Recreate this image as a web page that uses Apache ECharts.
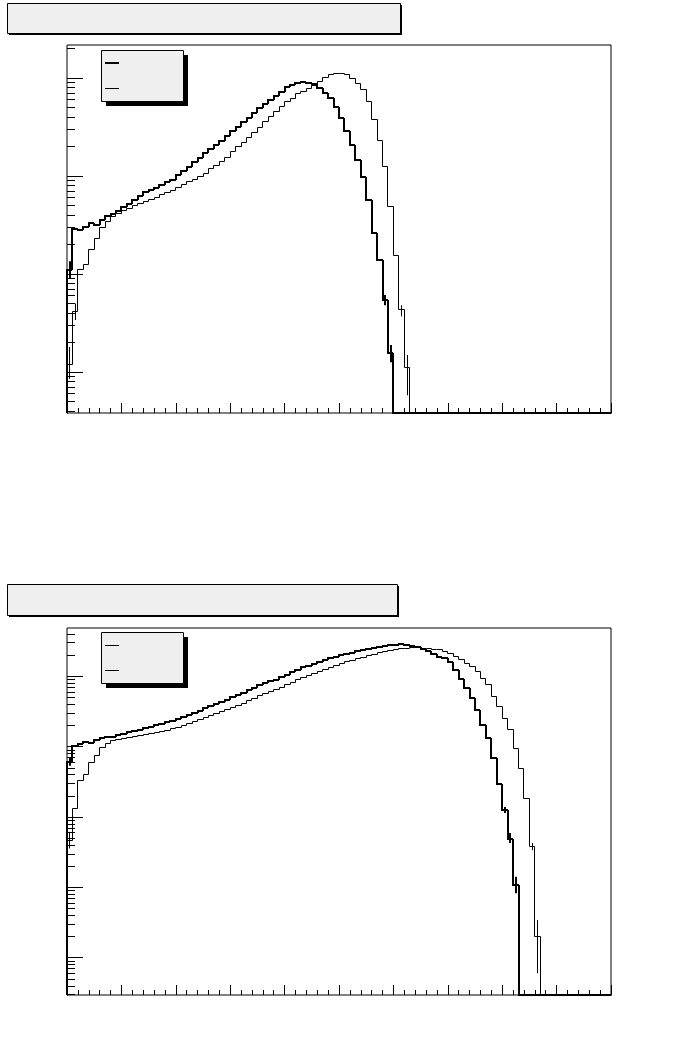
<!DOCTYPE html>
<html><head><meta charset="utf-8">
<script src="https://cdn.jsdelivr.net/npm/echarts@6/dist/echarts.min.js"></script>
<style>html,body{margin:0;padding:0;background:#fff}#c{width:680px;height:1042px}</style>
</head><body><div id="c"></div>
<script>
// ---------- data ----------
const binCount = 100;               // bins along x (axis runs 0..100)
const xTickStep = 10;               // major x tick every 10 bins
const topThick = [11,29,28,30,33,32,36,39,41,44,48,52,57,63,69,72,75,81,87,91,102,112,124,139,153,172,189,207,228,256,288,316,356,391,440,494,543,597,655,725,815,848,896,917,896,862,785,708,621,509,388,290,207,146,97,57,26,14,5.4,1.56];
const topThin = [1.18,4.1,11,12.4,17.6,22.8,29.5,34,38.5,41.5,44.5,47,49.5,52,55,58,61,64.5,68,72,77,82,87,92,98,107,118,129,142,156,176,198,222,250,281,316,364,409,460,509,573,621,698,725,785,848,917,1016,1074,1117,1117,1074,993,883,755,573,373,233,124,49,15.6,4.3,1.1];
const botThick = [610,1030,1099,1186,1148,1253,1325,1370,1396,1452,1527,1603,1683,1739,1827,1918,2014,2116,2223,2333,2494,2661,2842,3034,3243,3517,3817,4074,4352,4645,5047,5470,5848,6339,6883,7468,7980,8511,8950,9705,10540,11430,12410,13460,14150,15110,16140,17220,18080,19000,19950,20960,21660,22750,23890,24710,25530,26380,27250,27700,28180,28640,28180,27250,25940,24270,22750,20960,19190,18200,16290,12410,9160,6820,4913,3350,2050,1325,689,297,127,48.5,10.9];
const botThin = [47.4,135,327,398,590,743,965,1099,1213,1253,1295,1339,1384,1430,1477,1527,1578,1640,1725,1815,1905,2000,2130,2270,2414,2578,2752,2939,3137,3350,3576,3817,4143,4496,4879,5294,5652,6036,6443,6993,7597,8240,8950,9552,10200,11070,11830,12620,13250,14150,15110,16140,16940,17790,18700,19640,20620,21660,22390,23130,23890,24710,25120,25530,25530,25120,24710,24270,23890,22600,21440,19190,17220,15450,13830,11740,9460,7597,5177,3730,2553,1739,955,497,186,38,2.0];
// error bars: [bin, low, high]
const topThickErr = [[0, 9, 13.5], [58, 4.8, 6.1], [59, 1.26, 1.89]];
const topThinErr = [[0, 0.85, 1.8], [1, 3.4, 5], [61, 3.7, 4.8], [62, 0.58, 1.49]];
const botThickErr = [[0, 540, 700], [80, 115, 140], [81, 43, 59.6], [82, 8.3, 14.3]];
const botThinErr = [[0, 36, 62], [85, 34, 43], [86, 0.61, 3.45]];
const topYRange = [0.382, 2172];
const botYRange = [0.298, 48750];
const decades = [0.1, 1, 10, 100, 1000, 10000, 100000];
const minorMult = [2, 3, 4, 5, 6, 7, 8, 9];

// ---------- helpers ----------
function pad(a){ const r = a.slice(); while (r.length < binCount) r.push(0); return r; }
function histItems(vals){ const v = pad(vals); return v.map((y,i)=>[i, y, i>0 ? v[i-1] : 0]); }
function tickItems(range){
  const out = [];
  decades.forEach(d => {
    if (d >= range[0] && d <= range[1]) out.push([0, d, 1]);
    minorMult.forEach(m => { const t = d*m; if (t >= range[0] && t <= range[1]) out.push([0, t, 0]); });
  });
  return out;
}
function snap(v, w){ return w % 2 === 1 ? Math.round(v - 0.5) + 0.5 : Math.round(v); }
function histRender(width){
  return function(params, api){
    const cs = params.coordSys;
    const bottom = cs.y + cs.height;
    const i = api.value(0), v = api.value(1), p = api.value(2);
    const yOf = val => val > 0 ? api.coord([i, val])[1] : bottom;
    const xl = snap(api.coord([i, 1])[0], width);
    const xr = snap(api.coord([i + 1, 1])[0], width);
    const y = snap(yOf(v), width), yp = snap(yOf(p), width);
    return {type:'polyline', shape:{points:[[xl, yp],[xl, y],[xr, y]]},
      style:{stroke:'#000', lineWidth:width, fill:null, lineJoin:'miter'}};
  };
}
function errRender(width){
  return function(params, api){
    const i = api.value(0);
    const x = snap(api.coord([i + 0.5, 1])[0], width);
    const y1 = api.coord([i, api.value(1)])[1], y2 = api.coord([i, api.value(2)])[1];
    return {type:'line', shape:{x1:x, y1:y1, x2:x, y2:y2}, style:{stroke:'#000', lineWidth:width}};
  };
}
function yTickRender(params, api){
  const cs = params.coordSys;
  const y = snap(api.coord([0, api.value(1)])[1], 1);
  const len = api.value(2) ? 16 : 8;
  return {type:'line', shape:{x1:cs.x, y1:y, x2:cs.x+len, y2:y}, style:{stroke:'#000', lineWidth:1}};
}
function xAxisCfg(idx){
  return {gridIndex:idx, type:'value', min:0, max:binCount, interval:xTickStep,
    axisLine:{show:false}, axisLabel:{show:false}, splitLine:{show:false},
    axisTick:{show:true, inside:true, length:10, lineStyle:{color:'#000', width:1}},
    minorTick:{show:true, splitNumber:5, length:5, lineStyle:{color:'#000', width:1}}};
}
function yAxisCfg(idx, range){
  return {gridIndex:idx, type:'log', logBase:10, min:range[0], max:range[1],
    axisLine:{show:false}, axisLabel:{show:false}, splitLine:{show:false},
    axisTick:{show:false}, minorTick:{show:false}};
}
function boxGraphics(x, y, w, h, sx, sy){
  return [
    {type:'rect', shape:{x:x+sx, y:y+sy, width:w, height:h}, style:{fill:'#000'}},
    {type:'rect', shape:{x:x+0.5, y:y+0.5, width:w, height:h}, style:{fill:'#f0f0f0', stroke:'#000', lineWidth:1}}
  ];
}
function legendLine(y, w){
  return {type:'line', shape:{x1:105, y1:y, x2:119, y2:y}, style:{stroke:'#000', lineWidth:w}};
}
function histSeries(g, vals, w){
  return {type:'custom', xAxisIndex:g, yAxisIndex:g, data:histItems(vals), renderItem:histRender(w), encode:{x:0, y:1}, clip:false, silent:true};
}
function errSeries(g, errs, w){
  return {type:'custom', xAxisIndex:g, yAxisIndex:g, data:errs, renderItem:errRender(w), encode:{x:0, y:[1,2]}, clip:true, silent:true};
}

const chart = echarts.init(document.getElementById('c'), null, {renderer:'canvas'});
chart.setOption({
  animation:false,
  backgroundColor:'#fff',
  grid:[
    {left:67, top:45, width:544, height:368, show:true, borderColor:'#000', borderWidth:1, backgroundColor:'transparent'},
    {left:67, top:628, width:544, height:367, show:true, borderColor:'#000', borderWidth:1, backgroundColor:'transparent'}
  ],
  xAxis:[xAxisCfg(0), xAxisCfg(1)],
  yAxis:[yAxisCfg(0, topYRange), yAxisCfg(1, botYRange)],
  series:[
    {type:'custom', xAxisIndex:0, yAxisIndex:0, data:tickItems(topYRange), renderItem:yTickRender, encode:{x:0, y:1}, silent:true},
    {type:'custom', xAxisIndex:1, yAxisIndex:1, data:tickItems(botYRange), renderItem:yTickRender, encode:{x:0, y:1}, silent:true},
    histSeries(0, topThin, 1), errSeries(0, topThinErr, 1),
    histSeries(0, topThick, 2), errSeries(0, topThickErr, 2),
    histSeries(1, botThin, 1), errSeries(1, botThinErr, 1),
    histSeries(1, botThick, 2), errSeries(1, botThickErr, 2)
  ],
  graphic:[
    ...boxGraphics(7, 3, 393, 30, 2, 2),
    ...boxGraphics(7, 584, 390, 31, 2, 2),
    ...boxGraphics(101, 50, 82, 51, 5, 5),
    legendLine(63, 2), legendLine(88.5, 1),
    ...boxGraphics(101, 632, 82, 51, 5, 5),
    legendLine(645.5, 1), legendLine(670.5, 1)
  ]
});
</script>
</body></html>
